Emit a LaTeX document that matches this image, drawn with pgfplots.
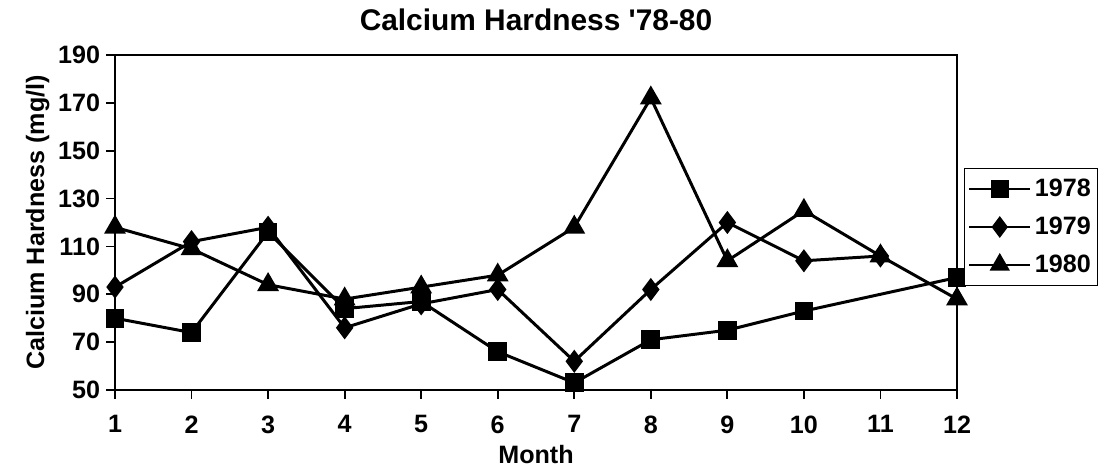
\documentclass[border=0pt]{standalone}
\usepackage{fontspec}
\setmainfont{Liberation Sans}
\usepackage{pgfplots}
\pgfplotsset{compat=1.18}
\newcommand{\lblfont}{\bfseries\fontsize{14.3}{17}\selectfont}
\begin{document}
\begin{tikzpicture}[font=\lblfont]
\begin{axis}[
  name=ca,
  scale only axis, width=16.84cm, height=6.7cm,
  xmin=1, xmax=12, ymin=50, ymax=190,
  xtick={1,...,12}, ytick={50,70,...,190},
  tick align=outside, tick pos=left,
  major tick length=5pt,
  every tick/.style={black, line width=1pt},
  axis line style={line width=1.3pt},
  /pgf/number format/assume math mode=true,
  every tick label/.append style={font=\lblfont},
  xticklabel style={yshift=-6pt},
  title={Calcium Hardness \textquotesingle78-80},
  title style={font=\bfseries\fontsize{17}{19}\selectfont, yshift=4pt},
  xlabel={Month},
  every axis x label/.append style={font=\lblfont, yshift=0pt},
  ylabel={Calcium Hardness (mg/l)},
  every axis y label/.append style={font=\lblfont, yshift=-2pt},
  legend style={at={(1.0083,0.663)}, anchor=north west, draw=black, line width=0.8pt,
    font=\lblfont, row sep=6pt,
    inner xsep=2pt, inner ysep=4pt, cells={anchor=west}},
  legend image code/.code={\draw[mark repeat=2,mark phase=2,#1,line width=1.2pt]
    plot coordinates {(0cm,0cm) (0.61cm,0cm) (1.22cm,0cm)};},
  every axis plot/.append style={black, line width=1.7pt, mark options={solid, fill=black}},
  clip=false,
]
\addplot[mark=square*, mark size=4.5pt] coordinates {
  (1,80) (2,74) (3,116) (4,84) (5,87) (6,66) (7,53) (8,71) (9,75) (10,83) (12,97)};
\addlegendentry{1978}
\addplot[mark=diamond*, mark size=5.2pt] coordinates {
  (1,93) (2,112) (3,118) (4,76) (5,86) (6,92) (7,62) (8,92) (9,120) (10,104) (11,106)};
\addlegendentry{1979}
\addplot[mark=triangle*, mark size=5.5pt] coordinates {
  (1,118) (2,109) (3,94) (4,88) (5,93) (6,98) (7,118) (8,172) (9,104) (10,125) (11,106) (12,88)};
\addlegendentry{1980}
\end{axis}
\pgfresetboundingbox
\useasboundingbox ([xshift=-2.3cm,yshift=-1.6cm]ca.south west) rectangle ([xshift=19.78cm,yshift=7.8cm]ca.south west);
\end{tikzpicture}
\end{document}
